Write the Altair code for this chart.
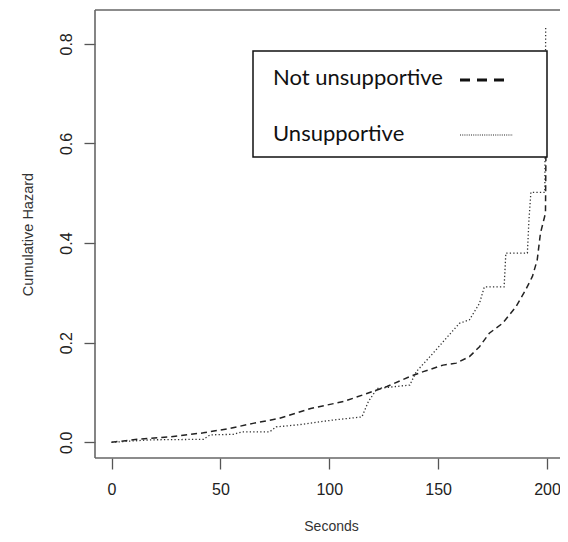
import altair as alt
import pandas as pd

# Cumulative hazard curves
not_unsup_t = [0, 11.8, 27, 42.2, 54.4, 65, 77.1, 91.5, 106.7, 117.3, 126.5, 137, 143.2,
               152.3, 158.3, 164.4, 169, 173.5, 179.6, 185.7, 190.2, 193.3, 195.5, 197,
               199.3, 199.6]
not_unsup_h = [0, 0.006, 0.011, 0.019, 0.028, 0.038, 0.048, 0.068, 0.082, 0.098, 0.112,
               0.132, 0.142, 0.155, 0.159, 0.172, 0.192, 0.219, 0.239, 0.272, 0.306, 0.333,
               0.366, 0.42, 0.46, 0.641]

unsup_t = [0, 17.9, 42.2, 45.3, 55.9, 60, 72.6, 75.6, 85.5, 102.2, 115, 118, 122, 137, 140,
           147.7, 152.3, 159.8, 164.4, 169, 171.2, 180.3, 181.1, 191, 191.7, 192.6, 199.0,
           199.4]
unsup_h = [0, 0.005, 0.006, 0.015, 0.016, 0.021, 0.021, 0.031, 0.035, 0.045, 0.051, 0.082,
           0.108, 0.115, 0.142, 0.179, 0.202, 0.239, 0.246, 0.279, 0.312, 0.312, 0.380,
           0.380, 0.446, 0.502, 0.502, 0.836]

x_ticks = [0, 50, 100, 150, 200]
y_ticks = [0.0, 0.2, 0.4, 0.6, 0.8]
legend_labels = ["Not unsupportive", "Unsupportive"]

W, H = 465, 448
XDOM = [-7.58, 205.97]
YDOM = [-0.0315, 0.868]

df_a = pd.DataFrame({"t": not_unsup_t, "h": not_unsup_h, "order": range(len(not_unsup_t))})
df_b = pd.DataFrame({"t": unsup_t, "h": unsup_h, "order": range(len(unsup_t))})
one = pd.DataFrame({"a": [0]})

xscale = alt.Scale(domain=XDOM, nice=False, zero=False)
yscale = alt.Scale(domain=YDOM, nice=False, zero=False)

xaxis = alt.Axis(values=x_ticks, grid=False, domain=False, tickSize=11, tickColor="#555",
                 tickWidth=1.3, labelFont="Liberation Sans", labelFontSize=16,
                 labelColor="#222", labelPadding=12, title="Seconds",
                 titleFont="Liberation Sans", titleFontSize=14, titleFontWeight="normal",
                 titleColor="#333", titleX=236, titleY=68, titleBaseline="middle",
                 titleAlign="center")
yaxis = alt.Axis(values=y_ticks, format=".1f", grid=False, domain=False, tickSize=11,
                 tickColor="#555", tickWidth=1.3, labelFont="Liberation Sans",
                 labelFontSize=16, labelColor="#222", labelAngle=270, labelAlign="center",
                 labelBaseline="alphabetic", labelPadding=13, title="Cumulative Hazard",
                 titleFont="Liberation Sans", titleFontSize=14.5, titleFontWeight="normal",
                 titleColor="#333", titleAngle=270, titleX=-67, titleY=H / 2,
                 titleBaseline="middle", titleAlign="center")

line_a = alt.Chart(df_a).mark_line(color="#222", strokeWidth=1.5, strokeDash=[6, 4]).encode(
    x=alt.X("t:Q", scale=xscale, axis=xaxis),
    y=alt.Y("h:Q", scale=yscale, axis=yaxis),
    order="order:Q",
)
line_b = alt.Chart(df_b).mark_line(color="#333", strokeWidth=1.3, strokeDash=[1.3, 2.2]).encode(
    x=alt.X("t:Q", scale=xscale),
    y=alt.Y("h:Q", scale=yscale),
    order="order:Q",
)

box_color = "#666"
top = alt.Chart(one).mark_rule(color=box_color, strokeWidth=1.6).encode(
    x=alt.value(0), x2=alt.value(W), y=alt.value(0))
left = alt.Chart(one).mark_rule(color=box_color, strokeWidth=1.6).encode(
    x=alt.value(0), y=alt.value(0), y2=alt.value(H))
bottom = alt.Chart(one).mark_rule(color=box_color, strokeWidth=1.6).encode(
    x=alt.value(0), x2=alt.value(W), y=alt.value(H))

leg_box = alt.Chart(one).mark_rect(fill="white", stroke="#111", strokeWidth=1.5).encode(
    x=alt.value(158), x2=alt.value(452), y=alt.value(41), y2=alt.value(147))
leg_t1 = alt.Chart(one).mark_text(align="left", baseline="alphabetic", font="Lato",
                                  fontSize=22, color="#111", text=legend_labels[0]).encode(
    x=alt.value(178), y=alt.value(75))
leg_t2 = alt.Chart(one).mark_text(align="left", baseline="alphabetic", font="Lato",
                                  fontSize=22, color="#111", text=legend_labels[1]).encode(
    x=alt.value(178), y=alt.value(131))
leg_l1 = alt.Chart(one).mark_rule(color="#111", strokeWidth=3, strokeDash=[10, 7]).encode(
    x=alt.value(365), x2=alt.value(414), y=alt.value(70))
leg_l2 = alt.Chart(one).mark_rule(color="#222", strokeWidth=1.2, strokeDash=[1, 1.2]).encode(
    x=alt.value(365), x2=alt.value(418), y=alt.value(125))

chart = alt.layer(line_a, line_b, top, left, bottom, leg_box, leg_t1, leg_t2, leg_l1, leg_l2).properties(
    width=W, height=H,
    autosize=alt.AutoSizeParams(type="none"),
    padding={"left": 87, "top": 2, "right": 0, "bottom": 74},
    background="white",
).configure_view(stroke=None)

chart.save("out.html", embed_options={"renderer": "svg", "actions": False})
